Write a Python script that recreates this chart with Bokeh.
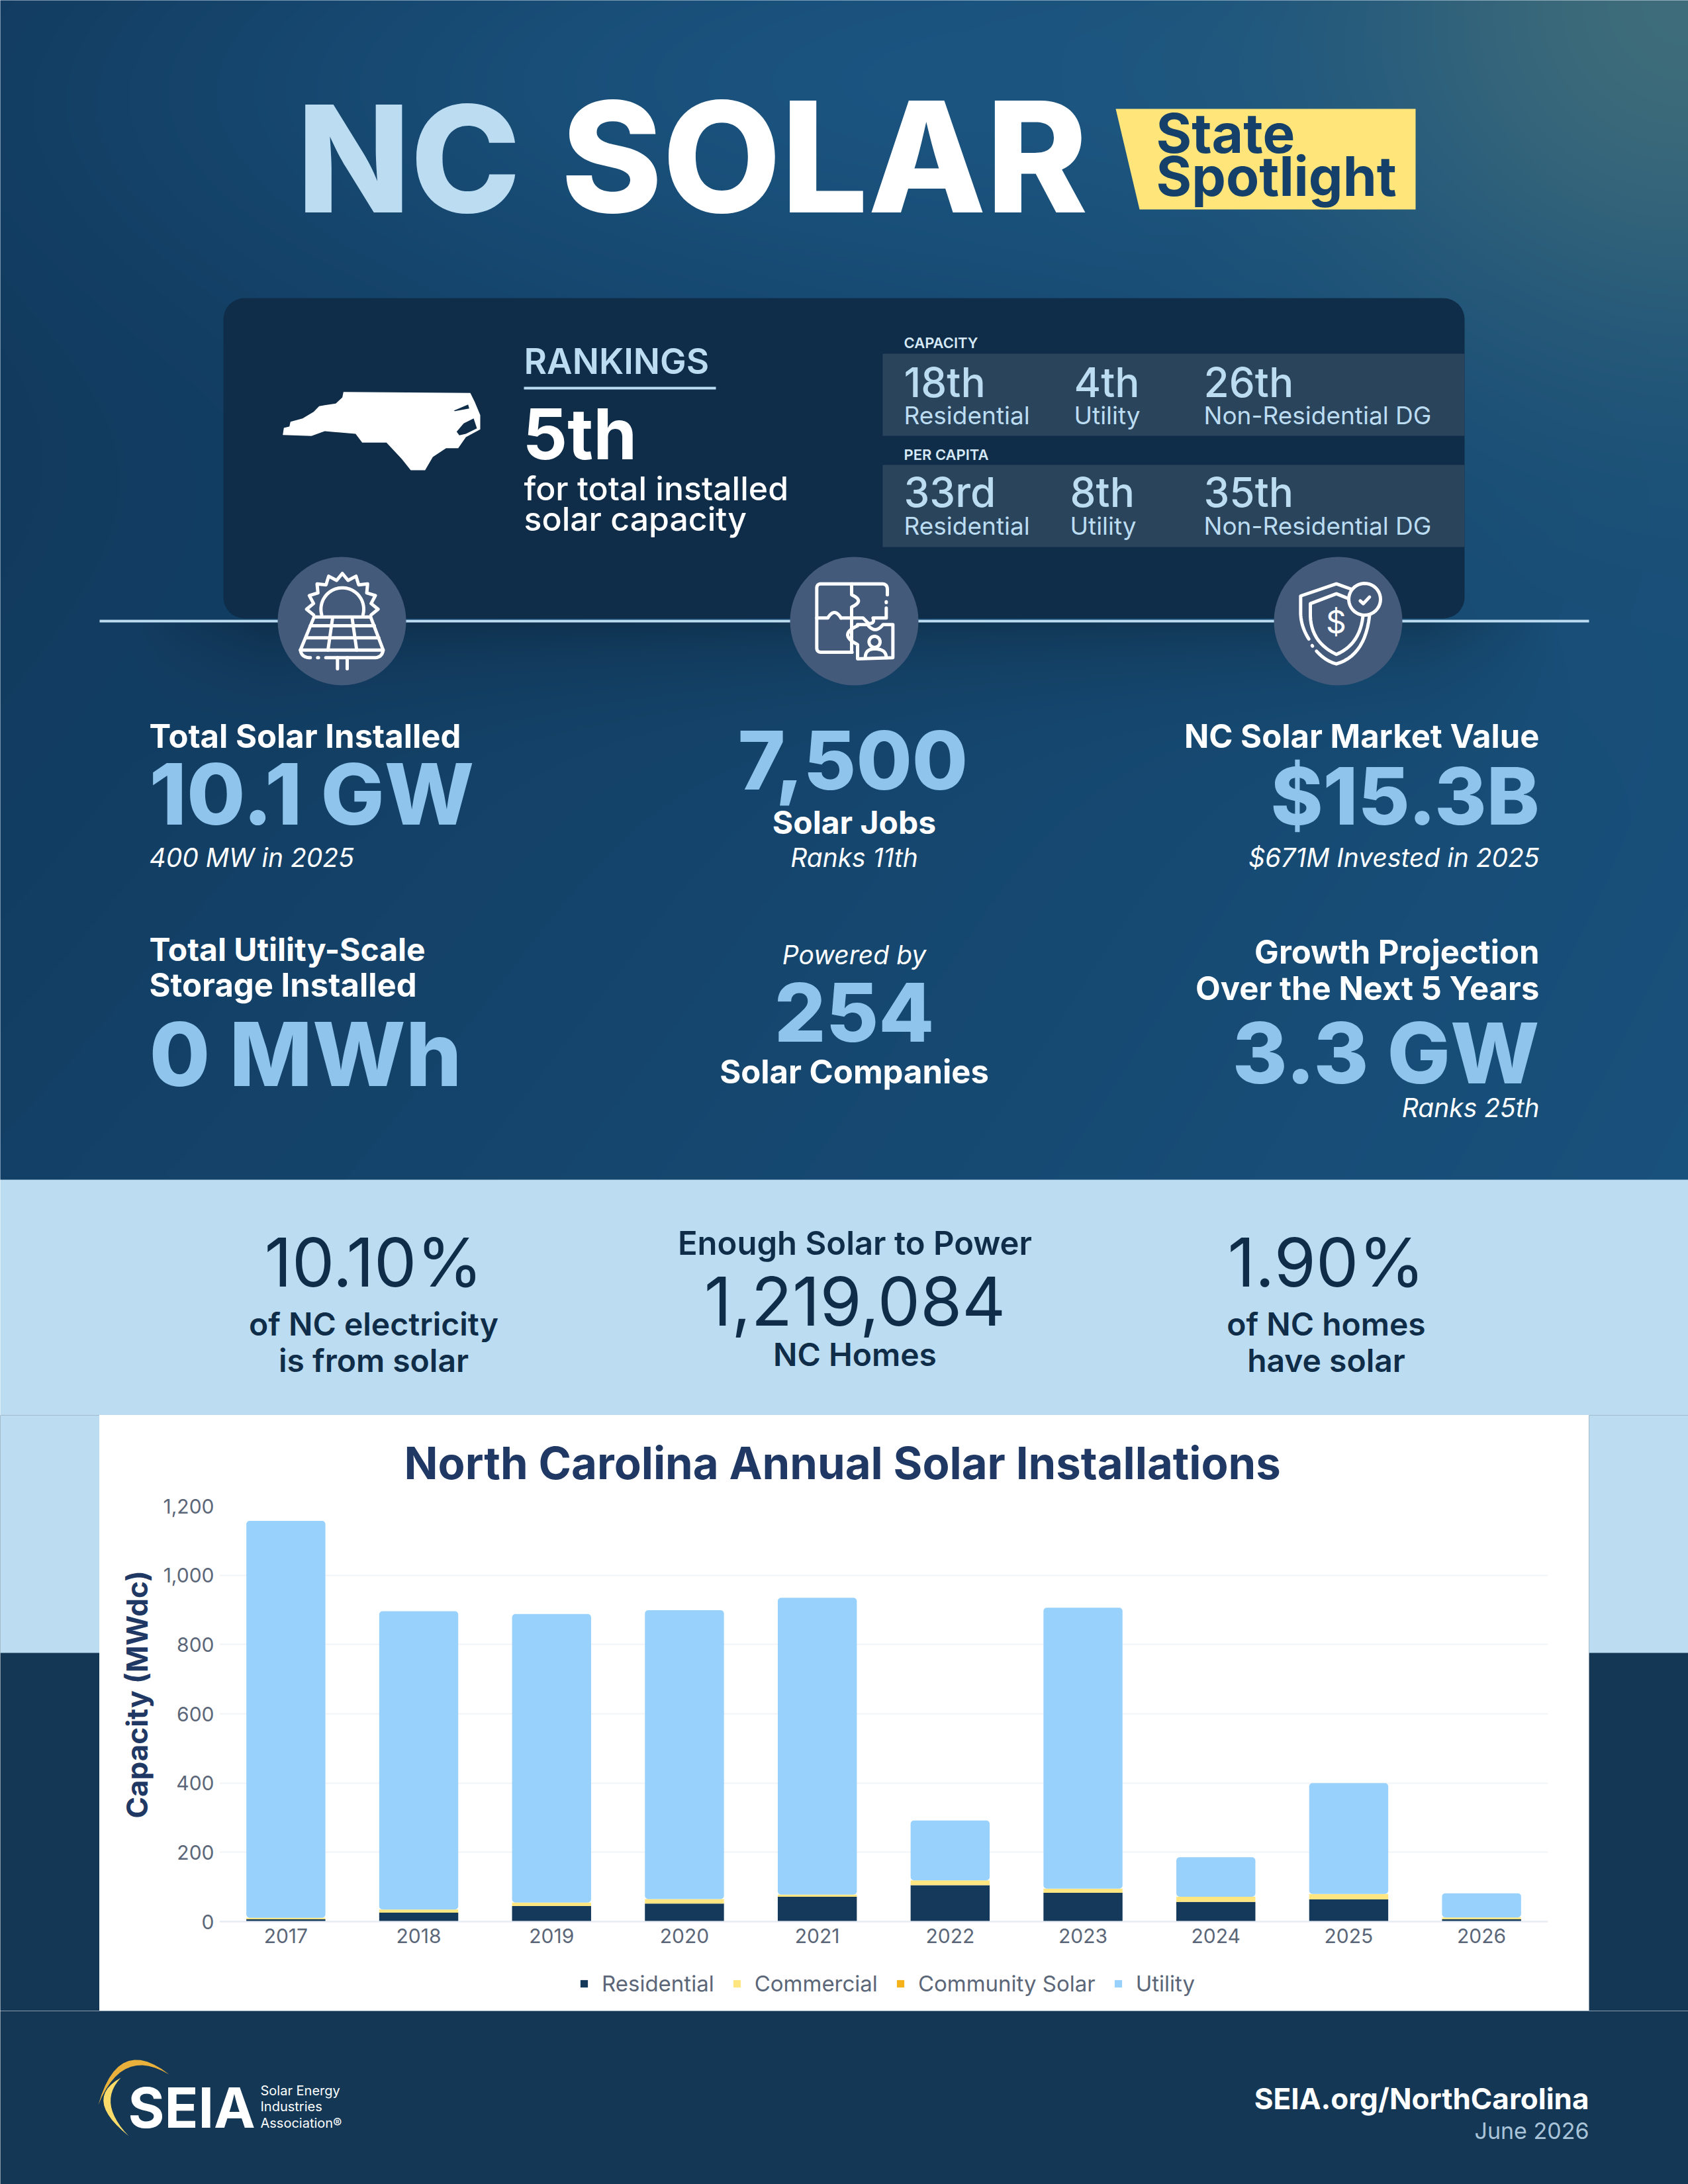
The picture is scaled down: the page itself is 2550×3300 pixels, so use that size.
import numpy as np
import pandas as pd
from bokeh.core.properties import value
from bokeh.embed import file_html
from bokeh.layouts import column, row
from bokeh.models import FactorRange, NumeralTickFormatter, Range1d, Title
from bokeh.plotting import figure
from bokeh.resources import INLINE

# ---- chart data (MWdc) ----
years = ["2017", "2018", "2019", "2020", "2021", "2022", "2023", "2024", "2025", "2026"]
residential = [7, 26, 45, 52, 72, 105, 83, 57, 64, 7]
commercial = [4, 9, 10, 13, 6, 14, 12, 15, 16, 5]
community = [0, 0, 0, 0, 0, 0, 0, 0, 0, 0]
utility = [1146, 861, 833, 834, 857, 173, 811, 114, 320, 70]
series_names = ["Residential", "Commercial", "Community Solar", "Utility"]
series_colors = ["#14395a", "#ffe680", "#f6b21a", "#99d1fd"]
y_ticks = [0, 200, 400, 600, 800, 1000, 1200]

FONT = "Inter"
HEAVY = "'Inter ExtraBold', Inter"
SEMI = "'Inter SemiBold', Inter"
MED = "'Inter Medium', Inter"
LIGHTBLUE = "#bbdcf1"
KPI = "#8fc5ec"
NAVY = "#0f2d48"
FOOT = "#133755"

X1 = 2550

# ---- top figure : reference pixel coordinates ----
top = figure(width=2550, height=2138, x_range=Range1d(0, X1), y_range=Range1d(2138, 0),
             x_axis_type=None, y_axis_type=None, toolbar_location=None, output_backend="svg",
             min_border=0, outline_line_color=None, background_fill_color=LIGHTBLUE,
             border_fill_color=LIGHTBLUE, frame_align=False)
top.grid.visible = False


def background():
    step = 4
    xs = np.arange(-8, X1 + 8, step) + step / 2
    ys = np.arange(-8, 1782, step) + step / 2
    X, Y = np.meshgrid(xs, ys)
    t = X / 2550
    s = Y / 1782
    a = np.array([16, 53, 88.0])
    b = np.array([25, 84, 128.0])
    m = np.clip(0.55 * t + 0.35 * s + 0.15 * (1 - s) * t, 0, 1)[..., None]
    rgb = a + (b - a) * m
    top_glow = np.exp(-((Y - 120) / 380) ** 2) * np.exp(-((X - 1500) / 1300) ** 2)
    rgb = rgb + (np.array([27, 86, 130.0]) - rgb) * top_glow[..., None] * 0.9
    d = np.hypot(X - 2550, Y)
    glow = np.exp(-(d / 520) ** 2)[..., None]
    rgb = rgb + (np.array([62, 108, 122.0]) - rgb) * glow
    sh = np.where(Y > 938, np.exp(-np.clip(Y - 938, 0, None) / 70), 0)
    sh = sh * np.clip((X - 200) / 200, 0, 1) * np.clip((2350 - X) / 200, 0, 1) * 0.25
    rgb = rgb * (1 - sh[..., None])
    img = np.zeros(X.shape + (4,), dtype=np.uint8)
    img[..., :3] = np.clip(np.round(rgb), 0, 255).astype(np.uint8)
    img[..., 3] = 255
    return img.view(dtype=np.uint32).reshape(X.shape)


bg = background()
top.image_rgba(image=[bg], x=-8, y=-8, dw=X1 + 16, dh=1790)

K = 0.37


def T(fig, s, x, y, size, color="#ffffff", font=FONT, style="normal", align="left"):
    fig.text(x=[x], y=[y - K * size], text=[s], text_font=value(font), text_font_size=f"{size}px",
             text_font_style=style, text_color=color, text_align=align, text_baseline="alphabetic")


# title
T(top, "NC", 448, 322, 224, LIGHTBLUE, HEAVY, "bold")
T(top, "SOLAR", 847, 322, 232, "#ffffff", HEAVY, "bold")
top.patch([1685, 2138, 2138, 1721], [164, 164, 316, 316], fill_color="#ffe57a", line_color=None)
T(top, "State", 1746, 231, 82, "#14406a", FONT, "bold")
T(top, "Spotlight", 1746, 296, 82, "#14406a", FONT, "bold")

# rankings panel
top.rect(x=[(337 + 2212) / 2], y=[(450 + 934) / 2], width=[2212 - 337], height=[934 - 450],
         fill_color=NAVY, line_color=None, border_radius=32)
top.quad(left=[1333, 1333], right=[2212, 2212], top=[534, 702], bottom=[658, 826],
         fill_color="#2a445c", line_color=None)
T(top, "RANKINGS", 791, 565, 53, LIGHTBLUE, SEMI)
top.quad(left=[791], right=[1081], top=[584], bottom=[588], fill_color=LIGHTBLUE, line_color=None)
T(top, "5th", 789, 694, 106, "#ffffff", FONT, "bold")
T(top, "for total installed", 791, 756, 50, "#ffffff", MED)
T(top, "solar capacity", 791, 802, 50, "#ffffff", MED)
T(top, "CAPACITY", 1365, 526, 22, "#d6e9f6", SEMI)
T(top, "PER CAPITA", 1365, 695, 22, "#d6e9f6", SEMI)

rank_ranks = [["18th", "4th", "26th"], ["33rd", "8th", "35th"]]
rank_labels = ["Residential", "Utility", "Non-Residential DG"]
rank_x = [[1365, 1622, 1818], [1365, 1616, 1818]]
rank_base = [(600, 641), (766, 808)]
for r in range(2):
    for c in range(3):
        T(top, rank_ranks[r][c], rank_x[r][c], rank_base[r][0], 62, LIGHTBLUE, MED)
        T(top, rank_labels[c], rank_x[r][c], rank_base[r][1], 37, LIGHTBLUE, FONT)

# NC silhouette (zoom coordinates / 3 + offset)
nc = [(50, 260), (55, 228), (80, 222), (85, 200), (140, 185), (190, 155), (215, 130), (240, 125),
      (290, 118), (320, 90), (325, 65), (900, 70), (920, 110), (945, 170), (945, 235), (880, 270),
      (845, 320), (790, 320), (730, 360), (695, 420), (630, 420), (590, 370), (520, 295), (410, 295),
      (380, 255), (240, 243), (180, 265)]
top.patch([410 + a / 3 for a, _ in nc], [570 + b / 3 for _, b in nc], fill_color="#ffffff", line_color=None)
sound = [(838, 245), (870, 208), (915, 185), (930, 230), (880, 255), (850, 262)]
top.patch([410 + a / 3 for a, _ in sound], [570 + b / 3 for _, b in sound], fill_color=NAVY, line_color=None)
inlet = [(825, 150), (890, 122), (895, 140), (830, 152)]
top.patch([410 + a / 3 for a, _ in inlet], [570 + b / 3 for _, b in inlet], fill_color=NAVY, line_color=None)

# rule and icon discs
top.quad(left=[150], right=[2400], top=[936], bottom=[940], fill_color=LIGHTBLUE, line_color=None)
top.circle(x=[516, 1290, 2021], y=[938, 938, 938], radius=97, fill_color="#445a7b", line_color=None)


def Q(p0, c, p1, n=14):
    u = np.linspace(0, 1, n)
    return [tuple((1 - v) ** 2 * np.array(p0) + 2 * (1 - v) * v * np.array(c) + v ** 2 * np.array(p1)) for v in u]


def arc(cx, cy, r, a0, a1, n=40):
    a = np.radians(np.linspace(a0, a1, n))
    return list(zip(cx + r * np.cos(a), cy - r * np.sin(a)))


def draw_icon(paths, ox, oy, width=5):
    xs = [[ox + a / 3 for a, _ in q] for q in paths]
    ys = [[oy + b / 3 for _, b in q] for q in paths]
    top.multi_line(xs, ys, line_color="#ffffff", line_width=width, line_cap="round", line_join="round")


# solar icon
sun = []
for i in range(19):
    ang = 191.25 - i * 11.25
    sun.append(tuple(arc(350, 270, 162 if i % 2 else 133, ang, ang, 1)[0]))
solar = [
    sun,
    arc(350, 270, 97, 195, -15),
    [(222, 305), (478, 305)], [(205, 345), (495, 345)], [(185, 400), (515, 400)],
    [(222, 305), (160, 455), (535, 455), (478, 305)],
    [(305, 315), (285, 455)], [(395, 315), (415, 455)],
    Q((160, 455), (165, 490), (205, 490)), [(238, 490), (242, 490)],
    [(275, 490), (495, 490)] + Q((495, 490), (530, 490), (535, 455)),
    [(328, 490), (328, 540)], [(372, 490), (372, 540)],
]
draw_icon(solar, 400, 830)

# puzzle icon
puzzle = [
    [(490, 265), (490, 310), (430, 310)] + Q((430, 310), (440, 335), (410, 335)) + [(385, 310), (285, 310)],
    Q((285, 310), (255, 260), (225, 310)) + [(175, 310)],
    [(335, 465), (195, 465)] + Q((195, 465), (175, 465), (175, 445)) + [(175, 175)] + Q((175, 175), (175, 155), (195, 155)) + [(470, 155)] + Q((470, 155), (495, 155), (495, 180)) + [(495, 205)],
    [(490, 236), (490, 240)],
    [(333, 155), (333, 205)] + Q((333, 205), (395, 232), (333, 260)) + [(333, 465)],
    [(360, 340), (405, 340)] + Q((405, 340), (440, 385), (475, 340)) + [(520, 340), (520, 490), (360, 495), (360, 430)] + Q((360, 430), (270, 385), (360, 345)),
    arc(437, 418, 25, 0, 360),
    Q((395, 490), (395, 450), (437, 450)) + Q((437, 450), (490, 450), (490, 490)),
]
draw_icon(puzzle, 1175, 830)

# shield icon
shield = [
    [(410, 180), (340, 155), (178, 210), (178, 290)] + Q((178, 290), (180, 350), (215, 405)),
    [(230, 435), (232, 437)],
    Q((250, 460), (290, 505), (340, 518)) + Q((340, 518), (470, 480), (490, 300)),
    [(395, 222), (340, 200), (222, 245), (222, 300)] + Q((222, 300), (225, 420), (340, 475)) + Q((340, 475), (445, 430), (460, 305)),
    arc(468, 225, 72, 0, 360),
    [(448, 232), (462, 245), (490, 215)],
]
draw_icon(shield, 1905, 830)
T(top, "$", 2018, 957, 48, "#ffffff", FONT, "normal", "center")

# KPIs - left
T(top, "Total Solar Installed", 225, 1130, 49, "#ffffff", FONT, "bold")
T(top, "10.1 GW", 225, 1246, 128, KPI, HEAVY, "bold")
T(top, "400 MW in 2025", 225, 1309, 39, "#ffffff", FONT, "italic")
T(top, "Total Utility-Scale", 225, 1452, 48, "#ffffff", FONT, "bold")
T(top, "Storage Installed", 225, 1506, 49, "#ffffff", FONT, "bold")
T(top, "0 MWh", 225, 1641, 133, KPI, HEAVY, "bold")
# KPIs - centre
T(top, "7,500", 1288, 1193, 122, KPI, HEAVY, "bold", "center")
T(top, "Solar Jobs", 1290, 1260, 48, "#ffffff", FONT, "bold", "center")
T(top, "Ranks 11th", 1290, 1309, 39, "#ffffff", FONT, "italic", "center")
T(top, "Powered by", 1290, 1456, 39, "#ffffff", FONT, "italic", "center")
T(top, "254", 1290, 1574, 122, KPI, HEAVY, "bold", "center")
T(top, "Solar Companies", 1290, 1637, 49, "#ffffff", FONT, "bold", "center")
# KPIs - right
T(top, "NC Solar Market Value", 2325, 1130, 49, "#ffffff", FONT, "bold", "right")
T(top, "$15.3B", 2325, 1246, 120, KPI, HEAVY, "bold", "right")
T(top, "$671M Invested in 2025", 2325, 1309, 39, "#ffffff", FONT, "italic", "right")
T(top, "Growth Projection", 2325, 1456, 49, "#ffffff", FONT, "bold", "right")
T(top, "Over the Next 5 Years", 2325, 1511, 49, "#ffffff", FONT, "bold", "right")
T(top, "3.3 GW", 2325, 1637, 127, KPI, HEAVY, "bold", "right")
T(top, "Ranks 25th", 2325, 1687, 39, "#ffffff", FONT, "italic", "right")

# light band stats
T(top, "10.10%", 564, 1944, 102, NAVY, FONT, "normal", "center")
T(top, "of NC electricity", 564, 2018, 48, NAVY, SEMI, "normal", "center")
T(top, "is from solar", 564, 2073, 48, NAVY, SEMI, "normal", "center")
T(top, "Enough Solar to Power", 1291, 1896, 49, NAVY, SEMI, "normal", "center")
T(top, "1,219,084", 1291, 2003, 102, NAVY, FONT, "normal", "center")
T(top, "NC Homes", 1291, 2064, 48, NAVY, SEMI, "normal", "center")
T(top, "1.90%", 2003, 1944, 102, NAVY, FONT, "normal", "center")
T(top, "of NC homes", 2003, 2018, 48, NAVY, SEMI, "normal", "center")
T(top, "have solar", 2003, 2073, 48, NAVY, SEMI, "normal", "center")


# ---- side strips beside the chart ----
def strip(x0, x1):
    f = figure(width=x1 - x0, height=900, x_range=Range1d(x0, x1), y_range=Range1d(3038, 2138),
               x_axis_type=None, y_axis_type=None, toolbar_location=None, output_backend="svg",
               min_border=0, outline_line_color=None, background_fill_color=FOOT,
               border_fill_color=LIGHTBLUE, frame_align=False)
    f.grid.visible = False
    f.quad(left=[x0 - 5], right=[x1 + 5], top=[2130], bottom=[2497], fill_color=LIGHTBLUE, line_color=None)
    return f


left_strip = strip(0, 150)
right_strip = strip(2400, X1)

# ---- chart : the frame reaches below zero so the legend can sit inside it ----
chart = figure(width=2250, height=900, x_range=FactorRange(factors=years, range_padding=0),
               y_range=Range1d(-254, 1200), toolbar_location=None, output_backend="svg",
               min_border_left=181, min_border_right=62, min_border_top=137, min_border_bottom=2,
               outline_line_color=None, background_fill_color="#ffffff", border_fill_color="#ffffff",
               title="North Carolina Annual Solar Installations", frame_align=False)
chart.title.text_font = FONT
chart.title.text_font_size = "67px"
chart.title.text_font_style = "bold"
chart.title.text_color = "#1f3864"
chart.title.align = "left"
chart.title.offset = 279
chart.title.standoff = 49

frame = pd.DataFrame({"year": years, "Residential": residential, "Commercial": commercial,
                      "Community Solar": community, "Utility": utility})
rs = chart.vbar_stack(series_names, x="year", width=0.595, source=frame, color=series_colors,
                      line_color=None, legend_label=series_names)
rs[-1].glyph.border_radius = 5

chart.xgrid.visible = False
chart.ygrid.grid_line_color = "#f1f4f8"
chart.ygrid.grid_line_width = 2
ya, xa = chart.yaxis[0], chart.xaxis[0]
ya.ticker = y_ticks
ya.formatter = NumeralTickFormatter(format="0,0")
ya.axis_line_color = None
ya.major_tick_line_color = None
ya.minor_tick_line_color = None
ya.major_label_standoff = 2
ya.major_label_text_font = FONT
ya.major_label_text_font_size = "30px"
ya.major_label_text_color = "#5b6779"
y_title = Title(text="Capacity (MWdc)", text_font=FONT, text_font_size="44px", text_font_style="bold",
                text_color="#1f3864", align="left", offset=289, standoff=20)
chart.add_layout(y_title, "left")
xa.fixed_location = 0
xa.axis_line_color = "#e4ebf3"
xa.axis_line_width = 2
xa.major_tick_line_color = None
xa.minor_tick_line_color = None
xa.major_label_standoff = 4
xa.major_label_text_font = FONT
xa.major_label_text_font_size = "30px"
xa.major_label_text_color = "#5b6779"
leg = chart.legend[0]
leg.orientation = "horizontal"
leg.location = (544, 19)
leg.background_fill_alpha = 0
leg.border_line_color = None
leg.margin = 0
leg.padding = 0
leg.glyph_width = 14
leg.glyph_height = 14
leg.label_standoff = 20
leg.spacing = 27
leg.label_text_font = FONT
leg.label_text_font_size = "33px"
leg.label_text_color = "#5b6779"

# ---- footer ----
foot = figure(width=2550, height=3300 - 3038, x_range=Range1d(0, X1), y_range=Range1d(3300, 3038),
              x_axis_type=None, y_axis_type=None, toolbar_location=None, output_backend="svg",
              min_border=0, outline_line_color=None, background_fill_color=FOOT,
              border_fill_color=FOOT, frame_align=False)
foot.grid.visible = False
gold = Q((148, 3180), (178, 3073), (255, 3134)) + Q((255, 3134), (184, 3091), (148, 3180))
foot.patch([a for a, _ in gold], [b for _, b in gold], fill_color="#e9b13c", line_color=None)
yel = Q((182, 3139), (124, 3171), (194, 3227)) + Q((194, 3227), (146, 3177), (182, 3139))
foot.patch([a for a, _ in yel], [b for _, b in yel], fill_color="#fbdc6a", line_color=None)
T(foot, "SEIA", 193, 3215, 84, "#ffffff", FONT, "bold")
T(foot, "Solar Energy", 393, 3166, 20, "#ffffff")
T(foot, "Industries", 393, 3190, 20, "#ffffff")
T(foot, "Association®", 393, 3215, 20, "#ffffff")
T(foot, "SEIA.org/NorthCarolina", 2400, 3187, 44, "#ffffff", FONT, "bold", "right")
T(foot, "June 2026", 2400, 3232, 34, "#a9c4d8", FONT, "normal", "right")

page = column(top, row(left_strip, chart, right_strip, spacing=0), foot, spacing=0)

open("out.html", "w").write(file_html(page, INLINE))
